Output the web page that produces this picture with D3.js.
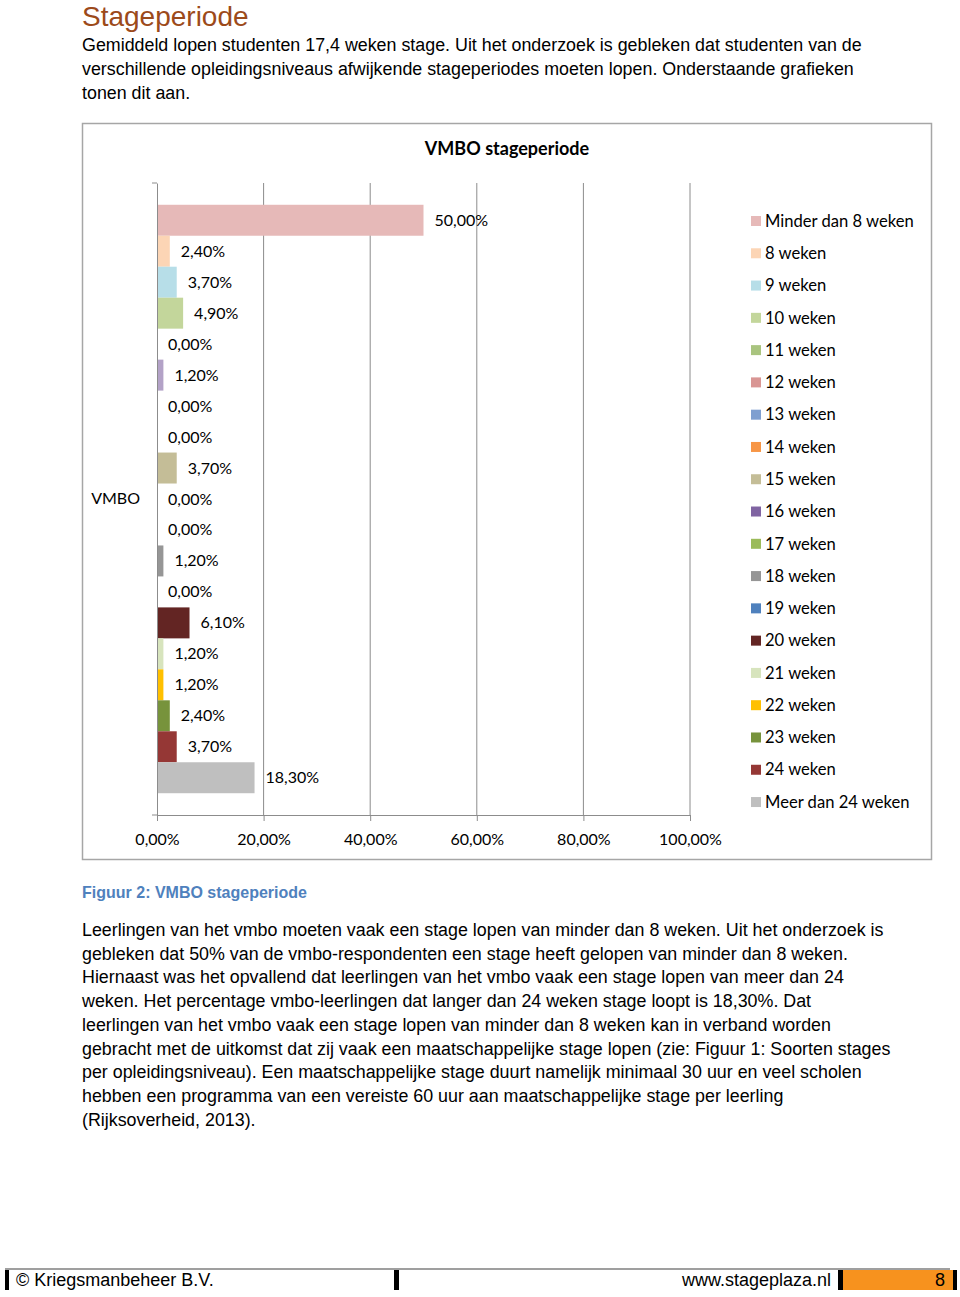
<!DOCTYPE html>
<html>
<head>
<meta charset="utf-8">
<script src="https://cdn.jsdelivr.net/npm/d3@7"></script>
<style>
html,body{margin:0;padding:0;background:#fff;}
svg{display:block;}
</style>
</head>
<body>
<svg id="page" width="960" height="1297"></svg>
<script>
// ---- data ----
const categories = ["Minder dan 8 weken","8 weken","9 weken","10 weken","11 weken","12 weken","13 weken","14 weken","15 weken","16 weken","17 weken","18 weken","19 weken","20 weken","21 weken","22 weken","23 weken","24 weken","Meer dan 24 weken"];
const values = [50.0, 2.4, 3.7, 4.9, 0.0, 1.2, 0.0, 0.0, 3.7, 0.0, 0.0, 1.2, 0.0, 6.1, 1.2, 1.2, 2.4, 3.7, 18.3];
const groups = ["VMBO"];
const xTicks = [0, 20, 40, 60, 80, 100];
const barColors = ["#e6b9b8","#fcd5b5","#b7dee8","#c3d69b","#a9c47f","#b3a2c7","#7f9fd0","#f79646","#c4bd97","#8064a2","#9bbb59","#969696","#4f81bd","#632523","#d7e4bd","#ffc000","#77933c","#953735","#bfbfbf"];
const legendColors = ["#e6b9b8","#fcd5b5","#b7dee8","#c3d69b","#a9c47f","#d99694","#7f9fd0","#f79646","#c4bd97","#8064a2","#9bbb59","#969696","#4f81bd","#632523","#d7e4bd","#ffc000","#77933c","#953735","#bfbfbf"];

const introLines = [
 "Gemiddeld lopen studenten 17,4 weken stage. Uit het onderzoek is gebleken dat studenten van de",
 "verschillende opleidingsniveaus afwijkende stageperiodes moeten lopen. Onderstaande grafieken",
 "tonen dit aan."
];
const bodyLines = [
 "Leerlingen van het vmbo moeten vaak een stage lopen van minder dan 8 weken. Uit het onderzoek is",
 "gebleken dat 50% van de vmbo-respondenten een stage heeft gelopen van minder dan 8 weken.",
 "Hiernaast was het opvallend dat leerlingen van het vmbo vaak een stage lopen van meer dan 24",
 "weken. Het percentage vmbo-leerlingen dat langer dan 24 weken stage loopt is 18,30%. Dat",
 "leerlingen van het vmbo vaak een stage lopen van minder dan 8 weken kan in verband worden",
 "gebracht met de uitkomst dat zij vaak een maatschappelijke stage lopen (zie: Figuur 1: Soorten stages",
 "per opleidingsniveau). Een maatschappelijke stage duurt namelijk minimaal 30 uur en veel scholen",
 "hebben een programma van een vereiste 60 uur aan maatschappelijke stage per leerling",
 "(Rijksoverheid, 2013)."
];

const svg = d3.select("#page");
const docFont = "'Liberation Sans', Arial, sans-serif";
const chartFont = "Lato, 'Open Sans', sans-serif";

// ---- page text ----
svg.append("text").attr("x", 82).attr("y", 26).attr("font-family", docFont)
  .attr("font-size", 28).attr("fill", "#9c4a1a").text("Stageperiode");
svg.append("g").selectAll("text").data(introLines).join("text")
  .attr("x", 82).attr("y", (d, i) => 51 + i * 24)
  .attr("font-family", docFont).attr("font-size", 17.85).attr("fill", "#000").text(d => d);

// ---- chart frame ----
svg.append("rect").attr("x", 82.5).attr("y", 123.5).attr("width", 849).attr("height", 736)
  .attr("fill", "#fff").attr("stroke", "#a6a6a6").attr("stroke-width", 1.5);
svg.append("text").attr("x", 507).attr("y", 155).attr("text-anchor", "middle")
  .attr("font-family", chartFont).attr("font-weight", "bold").attr("font-size", 18)
  .attr("fill", "#000").text("VMBO stageperiode");

const x = d3.scaleLinear().domain([0, 100]).range([157, 690]);
const yTop = 183, yBot = 815;
const y0 = d3.scaleBand().domain(groups).range([yTop, yBot]).paddingInner(0).paddingOuter(0.037);
const y1 = d3.scaleBand().domain(categories).range([y0("VMBO"), y0("VMBO") + y0.bandwidth()]).padding(0);

// gridlines
svg.append("g").selectAll("line").data(xTicks.filter(t => t > 0)).join("line")
  .attr("x1", d => x(d)).attr("x2", d => x(d)).attr("y1", yTop).attr("y2", yBot)
  .attr("stroke", "#8c8c8c").attr("stroke-width", 1);

// bars
svg.append("g").selectAll("rect").data(values).join("rect")
  .attr("x", x(0)).attr("y", (d, i) => y1(categories[i]))
  .attr("width", d => x(d) - x(0)).attr("height", y1.bandwidth())
  .attr("fill", (d, i) => barColors[i]);

// data labels
svg.append("g").selectAll("text").data(values).join("text")
  .attr("x", d => x(d) + 11).attr("y", (d, i) => y1(categories[i]) + y1.bandwidth() / 2 + 5.5)
  .attr("font-family", chartFont).attr("font-size", 16).attr("fill", "#000")
  .text(d => d.toFixed(2).replace(".", ",") + "%");

// x axis
const fmt = d => d.toFixed(2).replace(".", ",") + "%";
const xAxis = svg.append("g").attr("transform", `translate(0,${yBot})`)
  .call(d3.axisBottom(x).tickValues(xTicks).tickSize(6).tickSizeOuter(0).tickFormat(fmt));
xAxis.select(".domain").attr("stroke", "#8c8c8c");
xAxis.selectAll(".tick line").attr("stroke", "#8c8c8c");
xAxis.selectAll(".tick text").attr("font-family", chartFont).attr("font-size", 16)
  .attr("fill", "#000").attr("dy", 0).attr("y", 30);

// y axis
const yAxis = svg.append("g").attr("transform", `translate(${x(0)},0)`)
  .call(d3.axisLeft(y0).tickSize(0).tickSizeOuter(0).tickPadding(17));
yAxis.select(".domain").attr("stroke", "#8c8c8c");
yAxis.selectAll(".tick text").attr("font-family", chartFont).attr("font-size", 16).attr("fill", "#000");
svg.append("g").selectAll("line").data([yTop, yBot]).join("line")
  .attr("x1", x(0) - 5).attr("x2", x(0)).attr("y1", d => d).attr("y2", d => d)
  .attr("stroke", "#8c8c8c");

// legend
const lg = svg.append("g").selectAll("g").data(categories).join("g")
  .attr("transform", (d, i) => `translate(751,${221 + i * 32.28})`);
lg.append("rect").attr("x", 0).attr("y", -5).attr("width", 10).attr("height", 10)
  .attr("fill", (d, i) => legendColors[i]);
lg.append("text").attr("x", 14).attr("y", 5.7).attr("font-family", chartFont)
  .attr("font-size", 16.6).attr("fill", "#000").text(d => d);

// caption
svg.append("text").attr("x", 82).attr("y", 898).attr("font-family", docFont)
  .attr("font-weight", "bold").attr("font-size", 17).attr("fill", "#4f81bd")
  .attr("textLength", 225).attr("lengthAdjust", "spacingAndGlyphs")
  .text("Figuur 2: VMBO stageperiode");

// body
svg.append("g").selectAll("text").data(bodyLines).join("text")
  .attr("x", 82).attr("y", (d, i) => 936 + i * 23.7)
  .attr("font-family", docFont).attr("font-size", 17.85).attr("fill", "#000").text(d => d);

// footer
svg.append("line").attr("x1", 5).attr("x2", 950).attr("y1", 1269).attr("y2", 1269)
  .attr("stroke", "#7f7f7f").attr("stroke-width", 1.5);
svg.append("rect").attr("x", 842).attr("y", 1270).attr("width", 111).attr("height", 20).attr("fill", "#f7921e");
[[5, 4], [394, 5], [838, 5], [953, 4]].forEach(([bx, bw]) => {
  svg.append("rect").attr("x", bx).attr("y", 1270).attr("width", bw).attr("height", 20).attr("fill", "#000");
});
svg.append("text").attr("x", 16).attr("y", 1286).attr("font-family", docFont).attr("font-size", 18)
  .attr("fill", "#000").text("© Kriegsmanbeheer B.V.");
svg.append("text").attr("x", 831).attr("y", 1286).attr("text-anchor", "end").attr("font-family", docFont)
  .attr("font-size", 18).attr("fill", "#000").text("www.stageplaza.nl");
svg.append("text").attr("x", 945).attr("y", 1286).attr("text-anchor", "end").attr("font-family", docFont)
  .attr("font-size", 18).attr("fill", "#000").text("8");
</script>
</body>
</html>
